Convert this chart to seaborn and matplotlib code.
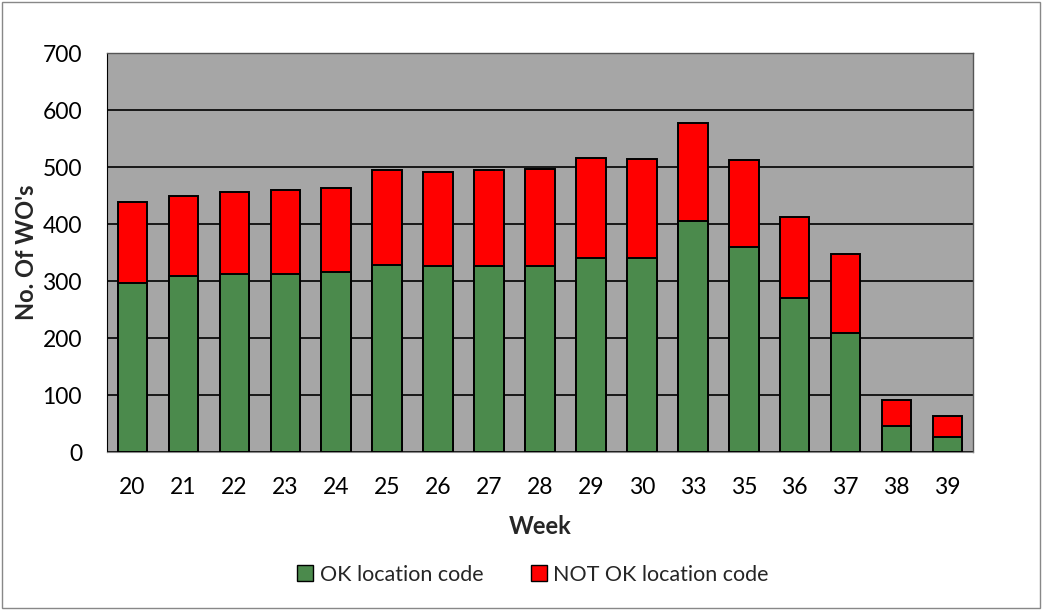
import matplotlib
matplotlib.use("Agg")
import matplotlib.pyplot as plt
import seaborn as sns
import pandas as pd
from matplotlib.patches import Patch, Rectangle

# data
weeks = ["20", "21", "22", "23", "24", "25", "26", "27", "28",
         "29", "30", "33", "35", "36", "37", "38", "39"]
ok_codes = [296, 308, 312, 313, 315, 329, 327, 327, 327,
            341, 341, 406, 360, 270, 209, 46, 26]
not_ok_codes = [142, 142, 144, 147, 149, 166, 165, 168, 170,
                175, 174, 172, 152, 143, 138, 46, 37]

df = pd.DataFrame({"Week": weeks, "OK": ok_codes, "NOT OK": not_ok_codes})
df["Total"] = df["OK"] + df["NOT OK"]

sns.set_style("white")
plt.rcParams["font.family"] = ["Lato", "DejaVu Sans"]

green = "#4B8A4C"
red = "#FF0000"
plot_bg = "#A6A6A6"

fig = plt.figure(figsize=(10.43, 6.10), dpi=100)
ax = fig.add_axes([0.1026, 0.259, 0.8303, 0.654])
ax.set_facecolor(plot_bg)

# stacked bars: full height in red, green on top of it
sns.barplot(data=df, x="Week", y="Total", color=red, width=0.58,
            edgecolor="black", linewidth=1.4, saturation=1, ax=ax, zorder=3)
sns.barplot(data=df, x="Week", y="OK", color=green, width=0.58,
            edgecolor="black", linewidth=1.4, saturation=1, ax=ax, zorder=3)

ax.set_ylim(0, 700)
ax.set_yticks(range(0, 701, 100))
ax.set_xlim(-0.5, len(weeks) - 0.5)
ax.yaxis.grid(True, color="black", linewidth=1.2, zorder=0)
ax.set_axisbelow(True)
for side in ["top", "right"]:
    ax.spines[side].set_color("#555555")
    ax.spines[side].set_linewidth(1)
ax.spines["left"].set_color("black")
ax.spines["bottom"].set_color("#888888")
ax.tick_params(axis="both", length=0, labelsize=16.5, colors="black")
ax.tick_params(axis="x", pad=18)
ax.tick_params(axis="y", pad=18)

ax.set_xlabel("Week", fontsize=17, fontweight="bold", labelpad=12)
ax.set_ylabel("No. Of WO's", fontsize=17, fontweight="bold", labelpad=3)

handles = [Patch(facecolor=green, edgecolor="black", label="OK location code"),
           Patch(facecolor=red, edgecolor="black", label="NOT OK location code")]
fig.legend(handles=handles, loc="center", bbox_to_anchor=(0.511, 0.058),
           ncol=2, frameon=False, fontsize=15.5, handlelength=0.75,
           handleheight=0.75, handletextpad=0.3, columnspacing=2.2)

# chart border
fig.patches.append(Rectangle((0.002, 0.003), 0.995, 0.993, transform=fig.transFigure,
                             fill=False, edgecolor="#888888", linewidth=1))

fig.savefig("out.png", dpi=100, facecolor="white")
